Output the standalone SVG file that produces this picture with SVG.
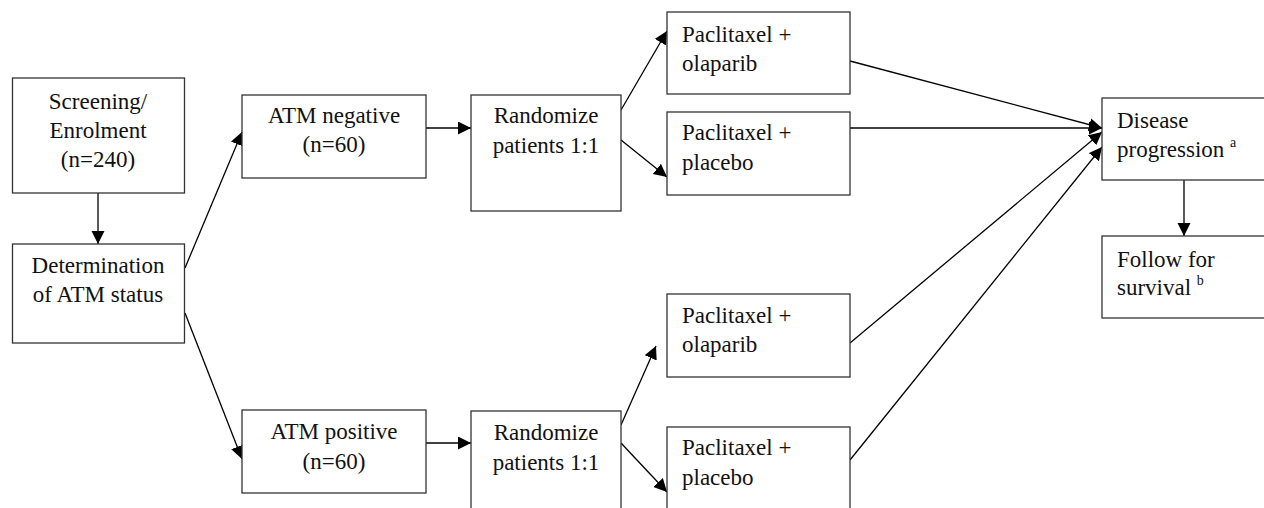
<svg xmlns="http://www.w3.org/2000/svg" width="1264" height="508" viewBox="0 0 1264 508" font-family="Liberation Serif, Times New Roman, serif">
<style>
.box{fill:#fff;stroke:#333;stroke-width:1.3}
text{font-family:'Liberation Serif','Times New Roman','DejaVu Serif',serif;font-size:23px;fill:#111}
.c{text-anchor:middle}
.sup{font-size:14px}
.ln{stroke:#000;stroke-width:1.3;fill:none;marker-end:url(#ah)}
</style>
<defs>
<marker id="ah" markerUnits="userSpaceOnUse" markerWidth="14" markerHeight="14" refX="13" refY="6.5" orient="auto">
<path d="M0,0 L13,6.5 L0,13 z" fill="#000"/>
</marker>
</defs>
<rect width="1264" height="508" fill="#fff"/>
<g id="connectors">
<line class="ln" x1="98" y1="193" x2="98" y2="244"/>
<line class="ln" x1="185" y1="268" x2="242" y2="132"/>
<line class="ln" x1="185" y1="313" x2="242" y2="459"/>
<line class="ln" x1="426" y1="128" x2="471" y2="128"/>
<line class="ln" x1="426" y1="443" x2="471" y2="443"/>
<line class="ln" x1="621" y1="110" x2="667" y2="31"/>
<line class="ln" x1="621" y1="140" x2="667" y2="177"/>
<line class="ln" x1="621" y1="425" x2="656" y2="346"/>
<line class="ln" x1="621" y1="443" x2="667" y2="492"/>
<line class="ln" x1="850" y1="61" x2="1102" y2="128"/>
<line class="ln" x1="850" y1="128" x2="1102" y2="128"/>
<line class="ln" x1="850" y1="343" x2="1102" y2="132"/>
<line class="ln" x1="850" y1="460" x2="1102" y2="147"/>
<line class="ln" x1="1184" y1="180" x2="1184" y2="236"/>
</g>
<g id="screening">
<rect class="box" x="12.5" y="78" width="172" height="115"/>
<text class="c" x="98" y="109">Screening/</text>
<text class="c" x="98" y="138">Enrolment</text>
<text class="c" x="98" y="167">(n=240)</text>
</g>
<g id="determination">
<rect class="box" x="12.5" y="244" width="172" height="99"/>
<text class="c" x="98" y="273">Determination</text>
<text class="c" x="98" y="302">of ATM status</text>
</g>
<g id="atm-negative">
<rect class="box" x="242" y="95" width="184" height="83"/>
<text class="c" x="334" y="123">ATM negative</text>
<text class="c" x="334" y="152">(n=60)</text>
</g>
<g id="atm-positive">
<rect class="box" x="242" y="410" width="184" height="83"/>
<text class="c" x="334" y="439">ATM positive</text>
<text class="c" x="334" y="469">(n=60)</text>
</g>
<g id="randomize-neg">
<rect class="box" x="471" y="95" width="150" height="116"/>
<text class="c" x="546" y="123">Randomize</text>
<text class="c" x="546" y="153">patients 1:1</text>
</g>
<g id="randomize-pos">
<rect class="box" x="471" y="411" width="150" height="110"/>
<text class="c" x="546" y="440">Randomize</text>
<text class="c" x="546" y="470">patients 1:1</text>
</g>
<g id="pac-olaparib-neg">
<rect class="box" x="667" y="12" width="183" height="82"/>
<text x="682" y="42">Paclitaxel +</text>
<text x="682" y="71">olaparib</text>
</g>
<g id="pac-placebo-neg">
<rect class="box" x="667" y="112" width="183" height="83"/>
<text x="682" y="140">Paclitaxel +</text>
<text x="682" y="170">placebo</text>
</g>
<g id="pac-olaparib-pos">
<rect class="box" x="667" y="294" width="183" height="83"/>
<text x="682" y="323">Paclitaxel +</text>
<text x="682" y="352">olaparib</text>
</g>
<g id="pac-placebo-pos">
<rect class="box" x="667" y="427" width="183" height="95"/>
<text x="682" y="455">Paclitaxel +</text>
<text x="682" y="485">placebo</text>
</g>
<g id="disease-progression">
<rect class="box" x="1102" y="98" width="170" height="82"/>
<text x="1117" y="128">Disease</text>
<text x="1117" y="157">progression <tspan class="sup" dy="-10">a</tspan></text>
</g>
<g id="follow-survival">
<rect class="box" x="1102" y="236" width="170" height="82"/>
<text x="1117" y="267">Follow for</text>
<text x="1117" y="295">survival <tspan class="sup" dy="-10">b</tspan></text>
</g>
</svg>
